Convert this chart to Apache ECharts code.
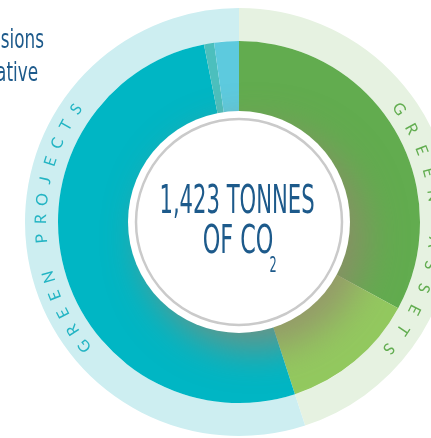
<!DOCTYPE html>
<html><head><meta charset="utf-8">
<script src="https://cdn.jsdelivr.net/npm/echarts@6/dist/echarts.min.js"></script>
<style>html,body{margin:0;padding:0;background:#fff;overflow:hidden}#c{width:431px;height:438px}</style>
</head><body><div id="c"></div>
<script>
// ---- data ----
const innerCategories = ['Green assets (large)', 'Green assets (small)', 'Green projects (large)', 'Green projects (minor)', 'Green projects (small)'];
const innerValues = [32.9, 12.1, 51.9, 0.9, 2.2];
const innerColors = ['#62ac4f', '#93c95f', '#00b6c4', '#4cbfbd', '#5dcade'];
const outerCategories = ['GREEN ASSETS', 'GREEN PROJECTS'];
const outerValues = [45.0, 55.0];
const outerColors = ['#e6f2e1', '#cdeef1'];
const ringTextColors = ['#62ad50', '#22b4c3'];
const centerLine1 = '1,423 TONNES';
const centerLine2 = 'OF CO';
const centerSub = '2';
const titleLines = ['Emissions', 'Initiative'];

// ---- layout ----
const CX = 239, CY = 222;
const BLUE = '#1d5a8b';
const condensed = '"Liberation Sans Narrow","DejaVu Sans Condensed","Arial Narrow",sans-serif';

function arcText(str, startDeg, stepDeg, r, color) {
  const els = [];
  for (let i = 0; i < str.length; i++) {
    const ch = str[i];
    if (ch === ' ') continue;
    const t = (startDeg + i * stepDeg) * Math.PI / 180;
    els.push({
      type: 'text', z: 20,
      x: CX + r * Math.sin(t), y: CY - r * Math.cos(t),
      rotation: -t,
      style: { text: ch, fill: color, font: '16px Lato', align: 'center', verticalAlign: 'middle' }
    });
  }
  return els;
}

const chart = echarts.init(document.getElementById('c'), null, { renderer: 'canvas' });
const graphics = [
  { type: 'circle', z: 10, shape: { cx: CX, cy: CY, r: 111 },
    style: { fill: '#ffffff', shadowBlur: 38, shadowOffsetX: 16, shadowOffsetY: 16, shadowColor: 'rgba(150,135,110,0.75)' } },
  { type: 'circle', z: 11, shape: { cx: CX, cy: CY, r: 103 },
    style: { fill: 'none', stroke: '#cacaca', lineWidth: 2.5 } },
  { type: 'text', z: 12, x: 237, y: 203, scaleX: 0.87, scaleY: 1.45,
    style: { text: centerLine1, fill: BLUE, font: '27px ' + condensed, align: 'center', verticalAlign: 'middle' } },
  { type: 'text', z: 12, x: 238, y: 243, scaleX: 0.92, scaleY: 1.45,
    style: { text: centerLine2, fill: BLUE, font: '27px ' + condensed, align: 'center', verticalAlign: 'middle' } },
  { type: 'text', z: 12, x: 273, y: 267, scaleX: 0.9, scaleY: 1.45,
    style: { text: centerSub, fill: BLUE, font: '14px ' + condensed, align: 'center', verticalAlign: 'middle' } },
  { type: 'text', z: 12, x: 44, y: 41, scaleX: 0.78, scaleY: 1.12,
    style: { text: titleLines[0], fill: BLUE, font: '24px ' + condensed, align: 'right', verticalAlign: 'middle' } },
  { type: 'text', z: 12, x: 38, y: 74, scaleX: 0.78, scaleY: 1.12,
    style: { text: titleLines[1], fill: BLUE, font: '24px ' + condensed, align: 'right', verticalAlign: 'middle' } }
].concat(arcText(outerCategories[0], 54.8, 6.86, 196, ringTextColors[0]))
 .concat(arcText(outerCategories[1], 231.3, 5.65, 198, ringTextColors[1]));

chart.setOption({
  animation: false,
  series: [
    {
      type: 'pie', silent: true, center: [CX, CY], radius: [181, 214], startAngle: 90, clockwise: true,
      label: { show: false }, labelLine: { show: false },
      data: outerCategories.map((n, i) => ({ name: n, value: outerValues[i], itemStyle: { color: outerColors[i] } }))
    },
    {
      type: 'pie', silent: true, center: [CX, CY], radius: [100, 181], startAngle: 90, clockwise: true,
      label: { show: false }, labelLine: { show: false },
      data: innerCategories.map((n, i) => ({ name: n, value: innerValues[i], itemStyle: { color: innerColors[i] } }))
    }
  ],
  graphic: { elements: graphics }
});
</script></body></html>
